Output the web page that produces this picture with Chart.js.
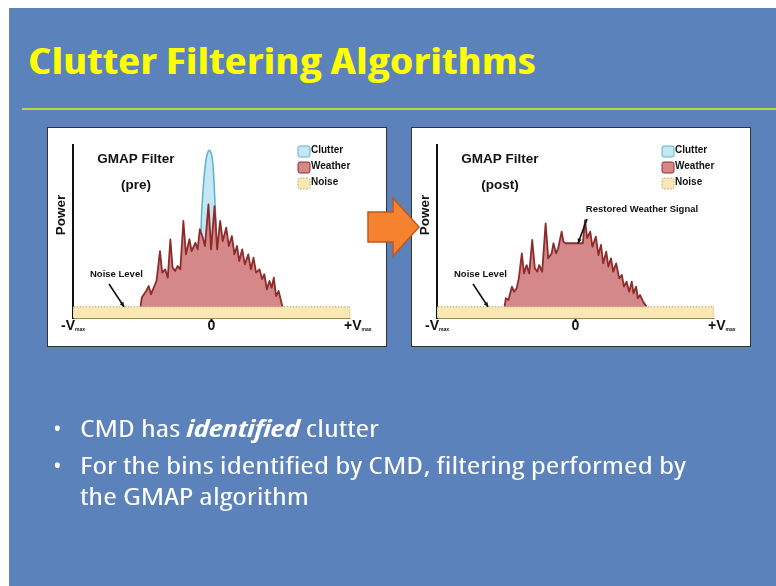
<!DOCTYPE html>
<html>
<head>
<meta charset="utf-8">
<script src="https://cdn.jsdelivr.net/npm/chart.js@4.4.0/dist/chart.umd.min.js"></script>
<style>
html, body { margin: 0; padding: 0; background: #fff; }
body { width: 776px; height: 586px; position: relative; overflow: hidden; font-family: "Open Sans", sans-serif; }
#slide { position: absolute; left: 9px; top: 8px; width: 767px; height: 578px; background: #5B82BB; }
#title { position: absolute; left: 28px; top: 42.5px; margin: 0; font-size: 35px; line-height: 35px; font-weight: 700;
  font-stretch: condensed; color: #FFFF00; white-space: nowrap; transform-origin: 0 0; }
#rule { position: absolute; left: 22px; top: 107.5px; width: 754px; height: 2px; background: #C3D147; }
.panel { position: absolute; top: 127px; width: 340px; height: 220px; background: #fff; border: 1px solid #333; box-sizing: border-box; }
.panel canvas { display: block; }
#arrow { position: absolute; left: 0; top: 0; }
.line { position: absolute; left: 80px; font-size: 24px; line-height: 31px; color: #fff; white-space: nowrap; transform-origin: 0 0; font-stretch: semi-condensed; }
.dot { position: absolute; left: 53px; font-size: 23px; line-height: 31px; color: #fff; }
</style>
</head>
<body>
<div id="slide"></div>
<h1 id="title">Clutter Filtering Algorithms</h1>
<div id="rule"></div>
<div class="panel" style="left:47px"><canvas id="preChart" width="338" height="218"></canvas></div>
<div class="panel" style="left:411px"><canvas id="postChart" width="338" height="218"></canvas></div>
<svg id="arrow" width="776" height="586">
  <polygon points="368,212 393,212 393,198 419,227 393,256 393,242 368,242" fill="#F5822F" stroke="#C0581C" stroke-width="1.5"/>
</svg>
<span class="dot" style="top:413px">•</span>
<span class="line" id="l1" style="top:412px">CMD has <b><i>identified</i></b> clutter</span>
<span class="dot" style="top:450px">•</span>
<span class="line" id="l2" style="top:449px">For the bins identified by CMD, filtering performed by</span>
<span class="line" id="l3" style="top:480px">the GMAP algorithm</span>

<script>
// velocity axis: -Vmax .. +Vmax, power in arbitrary units
const velMin = -32, velMax = 32;
const tickValues = [-32, 0, 32];
const tickLabels = ['-V', '0', '+V'];
const tickSubs = ['max', '', 'max'];

const noiseVel = [-32, -32, 32, 32];
const noisePow = [0, 6.5, 6.5, 0];

const clutterVel = [-2.6, -2.4, -2.1, -1.7, -1.3, -0.9, -0.5, -0.1, 0.3, 0.6, 0.9, 1.1, 1.4];
const clutterPow = [0, 50, 68, 82, 91, 95.5, 97, 95.5, 90, 78, 62, 50, 0];

const weatherVelPre = [-16.4,-16.1,-15.1,-14.5,-14.0,-13.2,-12.7,-11.9,-11.4,-10.7,-10.1,-9.5,-9.0,-8.4,-7.8,-7.2,-6.5,-5.9,-5.1,-4.6,-3.7,-3.2,-2.7,-2.0,-1.5,-0.7,-0.1,0.7,1.3,2.0,2.6,3.4,4.0,4.7,5.3,5.9,6.4,7.1,7.7,8.5,9.1,9.7,10.3,11.1,11.7,12.2,12.8,13.4,13.9,14.4,14.9,15.5,16.4];
const weatherPowPre = [6.5,11.8,15.6,18.5,13.7,18.5,21.4,38.7,26.2,28.1,23.3,45.5,29.1,27.2,30.1,28.1,56.1,36.8,45.5,38.7,43.5,39.7,51.3,46.4,41.6,65.7,39.7,64.7,39.7,56.1,44.5,52.2,41.6,47.4,36.8,41.6,32.9,39.7,31.0,36.8,28.1,34.9,26.2,28.1,22.4,25.3,16.6,21.4,17.5,23.3,12.7,15.6,6.5];

const weatherVelPost = [-16.4,-16.1,-15.5,-14.7,-14.2,-13.6,-13.1,-12.4,-11.9,-11.3,-10.7,-10.0,-9.4,-8.8,-8.4,-7.7,-6.9,-6.3,-5.5,-5.1,-4.5,-4.0,-3.2,-2.8,-2.3,1.7,2.2,2.7,3.4,3.9,4.7,5.3,5.9,6.4,7.1,7.6,8.2,8.7,9.4,10.1,10.7,11.2,11.8,12.4,13.0,13.4,14.0,14.4,14.9,15.5,16.4];
const weatherPowPost = [6.5,11.4,10.4,18.1,15.2,17.1,22.9,37.4,25.8,30.6,25.8,45.1,28.7,26.8,30.6,26.8,54.7,34.5,37.4,43.2,37.4,40.3,49.9,44.1,43.2,43.2,56.6,46.1,49.9,41.2,47.0,36.4,42.2,31.6,38.3,29.7,34.5,26.8,31.6,22.9,24.9,18.1,21.0,15.2,21.0,14.3,18.1,11.4,13.3,10.0,6.5];

const FONT = 'Arial, "Liberation Sans", sans-serif';

function points(xs, ys) {
    return xs.map((v, i) => ({ x: v, y: ys[i] }));
}

// text, legend, tick labels and arrows drawn over the plot
const slideDecor = {
    id: 'slideDecor',
    afterDraw(chart, args, opts) {
        const ctx = chart.ctx;
        const xs = chart.scales.x, ys = chart.scales.y;
        ctx.save();
        ctx.fillStyle = '#111';
        ctx.textBaseline = 'middle';

        ctx.font = 'bold 13.5px ' + FONT;
        ctx.textAlign = 'center';
        ctx.fillText('GMAP Filter', 88, 31);
        ctx.fillText(opts.stage, 88, 57);

        ctx.save();
        ctx.translate(13, 87);
        ctx.rotate(-Math.PI / 2);
        ctx.fillText('Power', 0, 0);
        ctx.restore();

        // legend
        ctx.font = 'bold 10px ' + FONT;
        ctx.textAlign = 'left';
        chart.data.datasets.forEach((ds, i) => {
            const y0 = 18 + i * 16;
            ctx.beginPath();
            if (ctx.roundRect) ctx.roundRect(250, y0, 12, 11, 2); else ctx.rect(250, y0, 12, 11);
            ctx.fillStyle = ds.backgroundColor;
            ctx.fill();
            ctx.lineWidth = 1;
            ctx.strokeStyle = ds.borderColor;
            ctx.setLineDash(ds.borderDash || []);
            ctx.stroke();
            ctx.setLineDash([]);
            ctx.fillStyle = '#111';
            ctx.fillText(ds.label, 263, y0 + 4.5);
        });

        // velocity tick labels
        tickValues.forEach((v, i) => {
            const px = xs.getPixelForValue(v);
            ctx.font = 'bold 14px ' + FONT;
            const w = ctx.measureText(tickLabels[i]).width;
            let left;
            if (i === 0) left = px + 2 - w;
            else if (i === tickValues.length - 1) left = px - 6;
            else left = px - w / 2;
            ctx.textAlign = 'left';
            ctx.fillText(tickLabels[i], left, 198);
            if (tickSubs[i]) {
                ctx.font = 'bold 5px ' + FONT;
                ctx.fillText(tickSubs[i], left + w, 202);
            }
        });

        // notes with arrows
        ctx.font = 'bold 9.5px ' + FONT;
        opts.notes.forEach(n => {
            ctx.textAlign = n.align;
            ctx.fillStyle = '#111';
            ctx.fillText(n.text, n.tx, n.ty);
            const x1 = n.from[0], y1 = n.from[1];
            const x2 = xs.getPixelForValue(n.tip[0]), y2 = ys.getPixelForValue(n.tip[1]);
            ctx.strokeStyle = '#111';
            ctx.lineWidth = 1.6;
            ctx.beginPath();
            ctx.moveTo(x1, y1);
            ctx.lineTo(x2, y2);
            ctx.stroke();
            const a = Math.atan2(y2 - y1, x2 - x1);
            ctx.beginPath();
            ctx.moveTo(x2, y2);
            ctx.lineTo(x2 - 5 * Math.cos(a - 0.45), y2 - 5 * Math.sin(a - 0.45));
            ctx.lineTo(x2 - 5 * Math.cos(a + 0.45), y2 - 5 * Math.sin(a + 0.45));
            ctx.closePath();
            ctx.fill();
        });
        ctx.restore();
    }
};

function makeChart(id, stage, weatherVel, weatherPow, withClutter, notes) {
    const ctx = document.getElementById(id).getContext('2d');
    return new Chart(ctx, {
        type: 'line',
        data: {
            datasets: [{
                label: 'Clutter',
                data: withClutter ? points(clutterVel, clutterPow) : [],
                borderColor: '#5DB3CB',
                backgroundColor: '#C3E7F3',
                borderWidth: 1.5,
                fill: 'origin',
                cubicInterpolationMode: 'monotone',
                pointRadius: 0,
                order: 3
            }, {
                label: 'Weather',
                data: points(weatherVel, weatherPow),
                borderColor: '#8E2C2C',
                backgroundColor: '#D4888A',
                borderWidth: 1.8,
                borderJoinStyle: 'round',
                fill: 'origin',
                tension: 0,
                pointRadius: 0,
                order: 2
            }, {
                label: 'Noise',
                data: points(noiseVel, noisePow),
                borderColor: '#B9A46C',
                backgroundColor: '#FAE8B4',
                borderWidth: 1,
                borderDash: [1.5, 1.5],
                fill: 'origin',
                tension: 0,
                pointRadius: 0,
                order: 1
            }]
        },
        options: {
            responsive: false,
            animation: false,
            layout: { padding: { left: 0, right: 36, top: 17, bottom: 0 } },
            plugins: {
                legend: { display: false },
                tooltip: { enabled: false },
                slideDecor: { stage: stage, notes: notes }
            },
            scales: {
                x: {
                    type: 'linear',
                    min: velMin,
                    max: velMax,
                    afterBuildTicks: s => { s.ticks = tickValues.map(v => ({ value: v })); },
                    afterFit: s => { s.height = 28; },
                    ticks: { display: false },
                    grid: {
                        drawOnChartArea: false,
                        tickLength: 4,
                        tickWidth: 2,
                        color: c => (c.tick && c.tick.value === 0) ? '#111' : 'rgba(0,0,0,0)'
                    },
                    border: { display: true, color: '#9C8A58', width: 1, dash: [1.5, 1.5] }
                },
                y: {
                    min: 0,
                    max: 100,
                    afterFit: s => { s.width = 25; },
                    ticks: { display: false },
                    grid: { display: false },
                    border: { display: true, color: '#111', width: 2 },
                    z: 1
                }
            }
        },
        plugins: [slideDecor]
    });
}

const noiseNote = { text: 'Noise Level', tx: 42, ty: 146, align: 'left', from: [61, 156], tip: [-20.2, 6.5] };

makeChart('preChart', '(pre)', weatherVelPre, weatherPowPre, true, [noiseNote]);
makeChart('postChart', '(post)', weatherVelPost, weatherPowPost, false, [
    noiseNote,
    { text: 'Restored Weather Signal', tx: 230, ty: 81, align: 'center', from: [175, 91], tip: [0.6, 43.2] }
]);

// squeeze the slide text to the reference widths
function widthOf(el) { return el.getBoundingClientRect().width; }
const title = document.getElementById('title');
title.style.display = 'inline-block';
title.style.transform = 'scaleX(' + (508 / widthOf(title)) + ')';
const k = 606 / widthOf(document.getElementById('l2'));
['l1', 'l2', 'l3'].forEach(id => {
    document.getElementById(id).style.transform = 'scaleX(' + k + ')';
});
</script>
</body>
</html>
